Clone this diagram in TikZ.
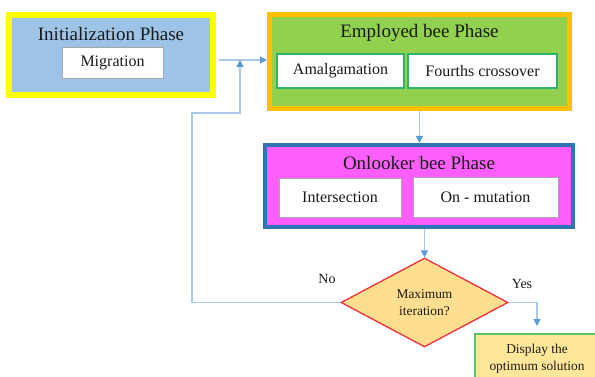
\documentclass[tikz,border=0pt]{standalone}
\usepackage{fontspec}
\setmainfont{Liberation Serif}
\usetikzlibrary{shapes.geometric,arrows.meta}
\definecolor{ylw}{HTML}{FFFF00}
\definecolor{initfill}{HTML}{9DC3E6}
\definecolor{org}{HTML}{FFC000}
\definecolor{grn}{HTML}{92D050}
\definecolor{grnline}{HTML}{2DB36A}
\definecolor{mag}{HTML}{FF5EFF}
\definecolor{blueline}{HTML}{2E75B6}
\definecolor{diafill}{HTML}{FFDF8F}
\definecolor{redline}{HTML}{F0303A}
\definecolor{dispfill}{HTML}{FFE699}
\definecolor{displine}{HTML}{5CC266}
\definecolor{conn}{HTML}{A9C9EC}
\definecolor{tip}{HTML}{5B9BD5}
\definecolor{txt}{HTML}{1A1A1A}
\tikzset{
  phase/.style={draw, rectangle, inner sep=0pt},
  title/.style={inner sep=0pt, text=txt, font=\fontsize{19}{22}\selectfont},
  sub/.style={draw, rectangle, fill=white, inner sep=0pt, text=txt, font=\fontsize{16}{19}\selectfont},
  small/.style={inner sep=0pt, text=txt, font=\fontsize{13.4}{17}\selectfont, align=center},
  connector/.style={draw=conn, line width=1.3pt, -{Triangle[length=7pt,width=7pt,color=tip,fill=tip]}},
  plain/.style={draw=conn, line width=1.3pt}
}
\begin{document}
\begin{tikzpicture}[x=1pt,y=-1pt]
\useasboundingbox (0,0) rectangle (595,377);
\clip (0,0) rectangle (595,377);
\fill[white] (0,0) rectangle (595,377);
% Initialization
\node[phase, draw=ylw, fill=initfill, line width=6pt, minimum width=204pt, minimum height=80pt] (init) at (111,55) {};
\node[title] (initt) at (111,34) {Initialization Phase};
\node[sub, draw=gray!70, line width=0.8pt, minimum width=101pt, minimum height=31pt] (mig) at (112.5,62.5) {Migration};
% Employed
\node[phase, draw=org, fill=grn, line width=5pt, minimum width=300pt, minimum height=94pt] (empl) at (419.5,61.5) {};
\node[title] (emplt) at (419.5,33) {Employed bee Phase};
\node[sub, draw=grnline, line width=1.2pt, minimum width=127pt, minimum height=34pt] (amal) at (340.5,71) {Amalgamation};
\node[sub, draw=grnline, line width=1.2pt, minimum width=149pt, minimum height=34pt] (four) at (482.5,71) {Fourths crossover};
% Onlooker
\node[phase, draw=blueline, fill=mag, line width=4pt, minimum width=308pt, minimum height=82pt] (onl) at (419,186) {};
\node[title] (onlt) at (419,163) {Onlooker bee Phase};
\node[sub, draw=gray!70, line width=0.8pt, minimum width=122pt, minimum height=39pt] (inter) at (340,197.5) {Intersection};
\node[sub, draw=gray!70, line width=0.8pt, minimum width=145pt, minimum height=40pt] (onmut) at (485.5,197) {On - mutation};
% Decision
\node[diamond, draw=redline, fill=diafill, line width=1.3pt, minimum width=167pt, minimum height=89pt, inner sep=0pt, text=txt, font=\fontsize{13.4}{17}\selectfont, align=center] (dia) at (424.5,302.5) {Maximum\\iteration?};
% Display
\node[phase, draw=displine, fill=dispfill, line width=1.5pt, minimum width=124pt, minimum height=52pt] (disp) at (537,360) {};
\node[small] (dispt) at (537,358.5) {Display the\\optimum solution};
% Labels
\node[inner sep=0pt, text=txt, font=\fontsize{14}{17}\selectfont] (no) at (327,279) {No};
\node[inner sep=0pt, text=txt, font=\fontsize{14}{17}\selectfont] (yes) at (522,284) {Yes};
% Coordinates
\coordinate (a1) at (219,60);
\coordinate (j) at (240,60);
\coordinate (fb) at (192,113);
\coordinate (yt) at (537,326);
% Connectors
\draw[connector] (a1) -- (a1 -| empl.west);
\draw[connector] (dia.west) -| (fb) -| (j);
\draw[connector] (empl.south) -- (empl.south |- onl.north);
\draw[connector] (dia.north |- onl.south) -- (dia.north);
\draw[connector] (dia.east) -| (yt);
\end{tikzpicture}
\end{document}
